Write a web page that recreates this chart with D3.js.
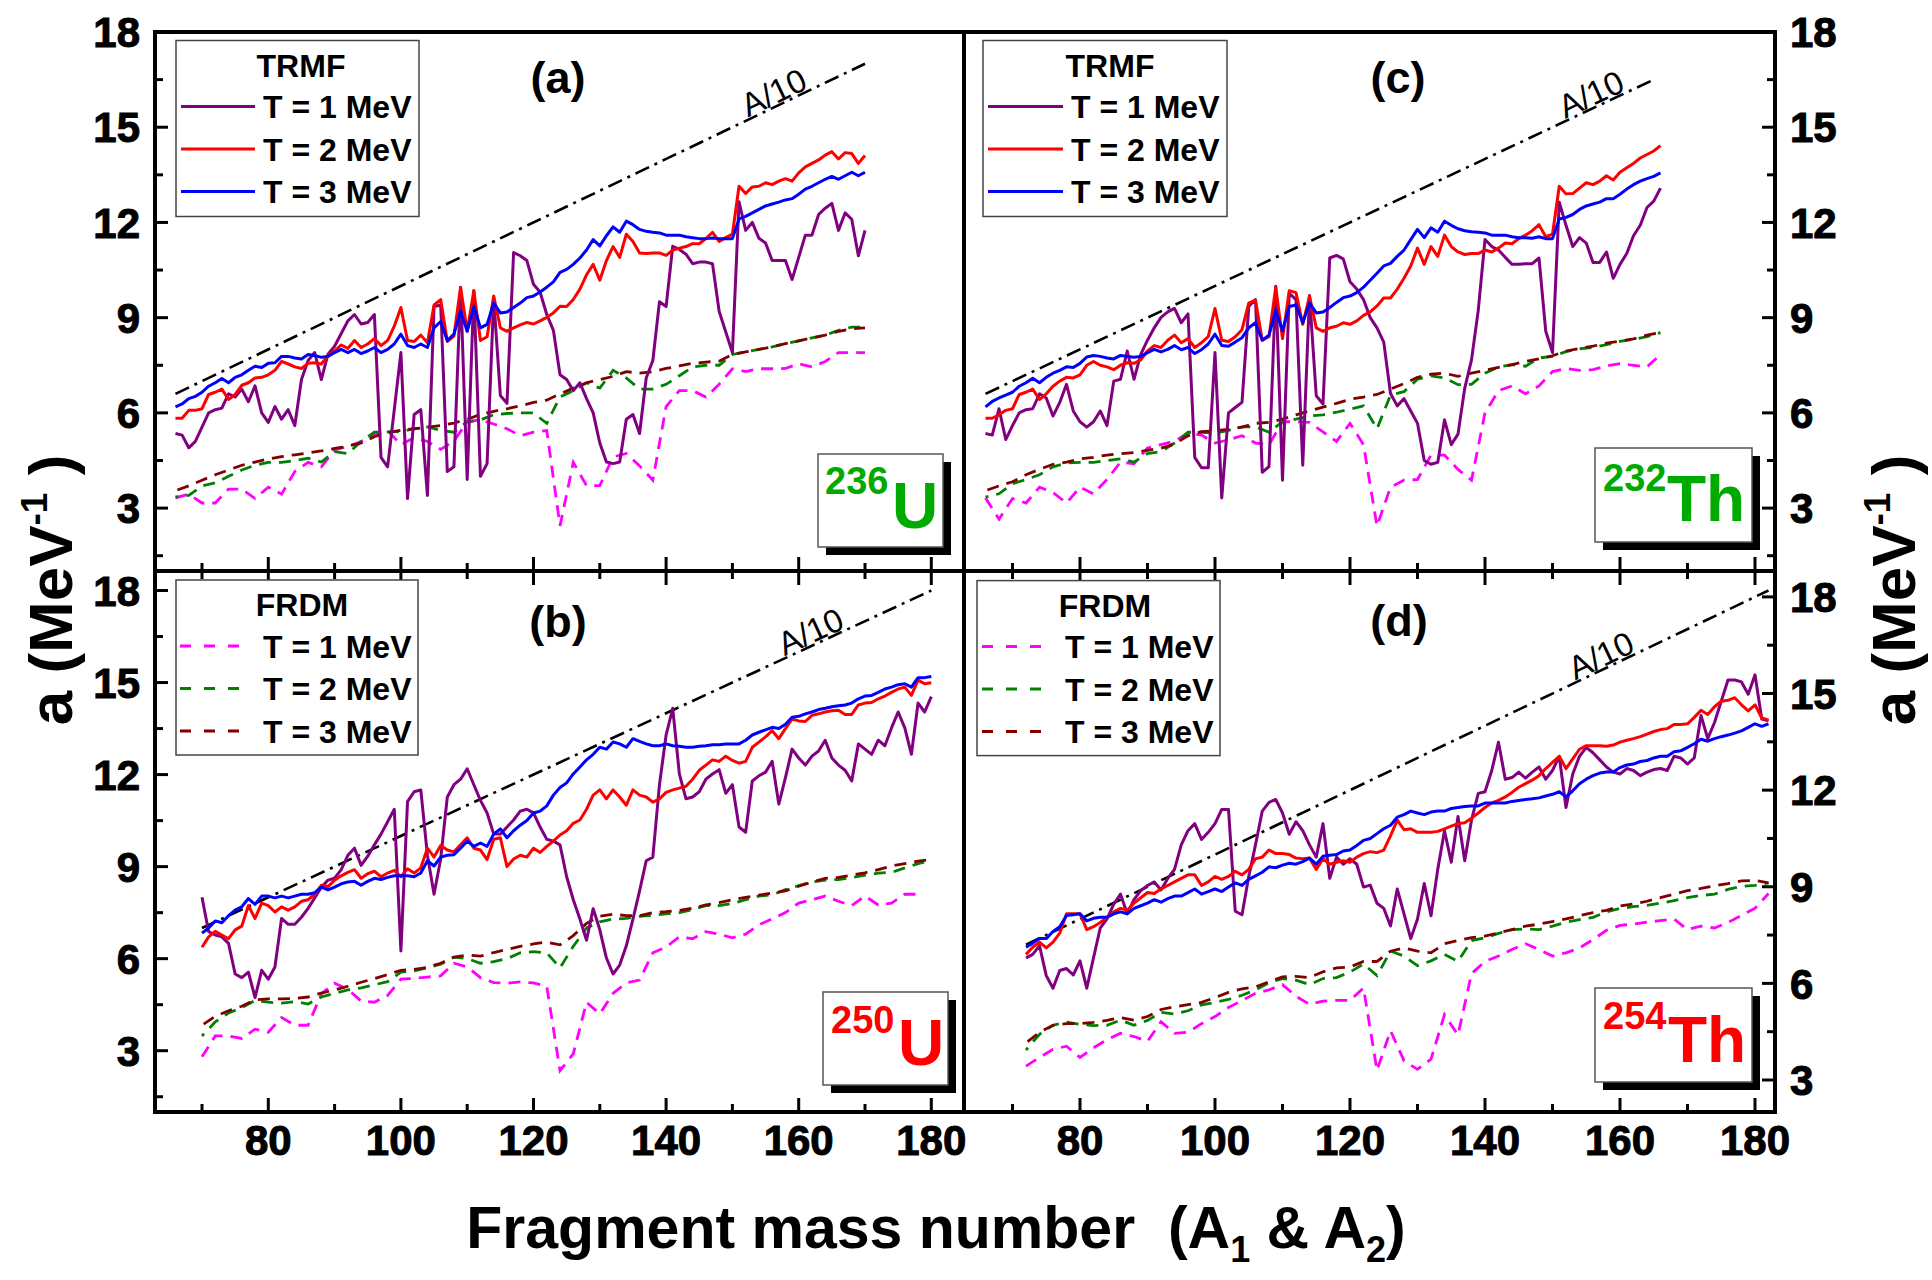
<!DOCTYPE html>
<html>
<head>
<meta charset="utf-8">
<script src="https://cdn.jsdelivr.net/npm/d3@7"></script>
<style>
  body { margin: 0; background: #fff; }
  svg { display: block; font-family: "Liberation Sans", Arial, Helvetica, sans-serif; }
</style>
</head>
<body>
<svg id="chart" width="1932" height="1280"></svg>
<script>
// ---------------- data (level density parameter a, MeV^-1) ----------------
// TRMF curves are given for every mass number, FRDM curves every 2nd mass number.

// 236U, A1 = 66 ... 170
const trmfT1_U236 = [5.35,5.3,4.9,5.1,5.55,6.0,6.1,6.15,6.6,6.5,
  6.75,6.35,6.85,6.0,5.7,6.2,5.8,6.1,5.6,7.05,
  7.65,7.9,7.05,7.85,8.1,8.5,8.9,9.1,8.8,8.85,
  9.1,4.6,4.3,6.1,7.9,3.3,5.95,6.1,3.4,9.35,
  9.4,4.15,4.3,9.95,3.9,9.85,4.0,4.4,9.6,6.55,
  6.3,11.05,10.95,10.8,10.05,9.8,9.1,8.6,7.2,7.05,
  6.7,6.95,6.45,6.0,5.05,4.45,4.4,4.45,5.8,5.95,
  5.35,7.1,7.65,9.5,9.35,11.25,11.15,11.0,10.7,10.75,
  10.75,10.7,9.2,8.55,7.9,12.65,11.75,12.0,11.5,11.35,
  10.8,10.8,10.8,10.2,10.9,11.6,11.6,12.25,12.45,12.6,
  11.75,12.3,12.1,10.95,11.75];
const trmfT2_U236 = [5.83,5.83,6.08,6.08,6.13,6.58,6.65,6.75,6.42,6.58,
  6.87,6.95,7.1,7.12,7.2,7.34,7.62,7.54,7.45,7.4,
  7.56,7.58,7.54,7.8,7.95,8.14,8.03,8.28,8.06,8.17,
  8.34,8.12,8.28,8.73,9.32,8.28,8.25,8.45,8.21,9.4,
  9.57,8.25,8.42,9.96,8.57,9.85,8.28,8.4,9.68,8.68,
  8.57,8.68,8.77,8.85,8.8,8.9,9.01,9.15,9.36,9.35,
  9.57,9.9,10.35,10.68,10.18,10.8,11.24,10.9,11.63,11.4,
  11.04,11.02,11.04,11.04,10.96,11.13,11.19,11.24,11.33,11.33,
  11.49,11.69,11.4,11.52,11.63,13.14,12.91,13.12,13.14,13.25,
  13.19,13.3,13.38,13.3,13.56,13.75,13.86,13.97,14.12,14.23,
  14.0,14.2,14.17,13.86,14.11];
const trmfT3_U236 = [6.19,6.28,6.45,6.52,6.65,6.84,6.95,7.08,6.95,7.12,
  7.2,7.34,7.47,7.43,7.56,7.58,7.78,7.78,7.73,7.7,
  7.84,7.81,7.75,7.78,7.9,8.0,7.9,8.0,7.87,7.95,
  8.06,7.9,8.0,8.17,8.48,8.12,8.06,8.17,8.06,8.68,
  8.88,8.28,8.48,9.21,8.57,9.35,8.68,8.79,9.46,9.15,
  9.18,9.32,9.46,9.63,9.68,9.81,9.96,10.13,10.43,10.52,
  10.68,10.88,11.13,11.46,11.26,11.58,11.86,11.69,12.04,11.93,
  11.78,11.72,11.69,11.67,11.6,11.6,11.6,11.55,11.52,11.49,
  11.49,11.51,11.49,11.49,11.49,12.11,12.19,12.3,12.41,12.52,
  12.58,12.64,12.71,12.75,12.89,13.05,13.14,13.25,13.36,13.45,
  13.36,13.47,13.58,13.47,13.58];
const frdmT1_U236 = [3.32,3.44,3.16,3.16,3.6,3.6,3.3,3.66,3.44,4.15,
  4.44,4.3,4.83,4.94,5.1,5.3,5.44,5.0,5.22,5.1,
  4.85,5.11,5.72,5.78,5.65,5.5,5.28,5.39,5.44,2.44,
  4.44,3.71,3.71,4.61,4.72,4.33,3.88,6.2,6.7,6.7,
  6.5,6.9,7.39,7.3,7.39,7.39,7.4,7.55,7.45,7.62,
  7.9,7.9,7.9];
const frdmT2_U236 = [3.35,3.4,3.7,3.8,4.0,4.2,4.35,4.44,4.44,4.5,
  4.57,4.45,4.78,4.72,5.1,5.39,5.4,5.41,5.5,5.56,
  5.45,5.39,5.72,5.78,5.94,5.98,6.0,6.0,5.67,6.5,
  6.7,6.95,6.78,7.34,7.1,6.75,6.75,6.9,7.17,7.45,
  7.5,7.5,7.84,7.92,8.0,8.08,8.18,8.27,8.36,8.45,
  8.6,8.7,8.7];
const frdmT3_U236 = [3.55,3.7,3.88,4.05,4.2,4.35,4.45,4.55,4.62,4.68,
  4.74,4.8,4.88,4.95,5.05,5.25,5.38,5.45,5.5,5.55,
  5.6,5.68,5.8,5.95,6.05,6.13,6.22,6.33,6.4,6.6,
  6.78,6.95,7.05,7.15,7.3,7.25,7.3,7.4,7.48,7.56,
  7.6,7.63,7.84,7.92,8.0,8.08,8.18,8.27,8.36,8.45,
  8.57,8.65,8.68];

// 250U, A1 = 70 ... 180
const trmfT1_U250 = [8.0,6.88,6.77,6.71,6.5,5.5,5.38,5.56,4.73,5.62,
  5.33,5.73,7.31,7.12,7.12,7.35,7.64,7.98,8.33,8.56,
  8.62,8.9,9.37,9.6,9.04,9.34,9.71,10.06,10.46,10.87,
  6.25,11.12,11.44,11.5,9.37,8.1,9.25,11.27,11.67,11.85,
  12.19,11.67,11.16,10.75,10.06,10.06,10.29,10.52,10.81,10.87,
  10.75,10.29,9.89,9.83,9.71,8.67,7.92,7.29,6.6,7.63,
  6.94,6.02,5.5,5.79,6.42,7.29,8.21,9.19,9.31,11.67,
  13.29,14.16,12.02,11.21,11.27,11.44,11.85,12.02,12.16,11.39,
  11.67,10.29,10.12,11.79,11.96,12.08,12.43,11.04,11.9,12.83,
  12.54,12.31,12.6,12.77,13.12,12.54,12.31,12.14,11.79,13.0,
  12.83,12.66,13.12,12.94,13.52,14.04,13.52,12.66,14.33,14.04,
  14.54];
const trmfT2_U250 = [6.37,6.71,6.89,6.77,6.65,6.94,7.06,7.73,7.31,7.81,
  7.73,7.52,7.69,7.58,7.69,7.87,7.92,8.1,8.39,8.35,
  8.56,8.7,8.81,8.9,8.62,8.77,8.85,8.67,8.79,8.88,
  8.67,8.93,8.79,8.96,9.6,9.31,9.69,9.54,9.48,9.71,
  9.94,9.6,9.54,9.23,9.89,9.94,9.0,9.25,9.37,9.31,
  9.6,9.46,9.66,9.83,10.03,10.17,10.41,10.52,10.87,11.33,
  11.5,11.21,11.5,11.27,11.0,11.5,11.33,11.27,11.1,11.21,
  11.42,11.5,11.56,11.62,11.85,12.14,12.31,12.48,12.43,12.6,
  12.46,12.37,12.43,12.89,13.06,13.23,13.43,13.17,13.5,13.81,
  13.75,13.73,13.93,13.98,14.04,14.08,14.1,13.96,13.96,14.27,
  14.33,14.35,14.47,14.56,14.68,14.79,14.85,14.58,15.08,14.96,
  14.99];
const trmfT3_U250 = [6.83,7.0,7.23,7.17,7.4,7.58,7.69,7.96,7.77,8.04,
  8.04,7.98,8.04,7.98,8.04,8.1,8.1,8.15,8.33,8.24,
  8.33,8.44,8.5,8.52,8.39,8.52,8.62,8.58,8.65,8.7,
  8.7,8.7,8.67,8.79,9.19,9.02,9.31,9.37,9.39,9.6,
  9.83,9.66,9.77,9.66,10.06,10.23,9.94,10.17,10.35,10.5,
  10.75,10.81,10.98,11.33,11.58,11.73,12.02,12.25,12.48,12.66,
  12.89,12.83,13.06,13.0,12.89,13.17,13.08,13.0,12.94,12.94,
  13.0,12.94,12.92,12.89,12.89,12.92,12.94,12.97,12.97,13.0,
  13.0,13.0,13.12,13.29,13.38,13.46,13.54,13.5,13.64,13.87,
  13.9,13.98,14.04,14.12,14.16,14.21,14.24,14.27,14.33,14.47,
  14.56,14.58,14.68,14.79,14.85,14.93,14.96,14.85,15.16,15.16,
  15.2];
const frdmT1_U250 = [2.8,3.48,3.48,3.4,3.7,3.6,4.08,3.83,3.83,4.85,
  5.2,5.0,4.62,4.58,4.8,5.33,5.36,5.4,5.44,5.85,
  5.73,5.38,5.22,5.2,5.24,5.21,5.1,2.35,2.9,4.58,
  4.2,4.87,5.21,5.3,6.19,6.38,6.71,6.65,6.88,6.8,
  6.68,6.8,7.1,7.3,7.5,7.81,7.92,8.04,7.87,7.73,
  8.04,7.75,7.81,8.1,8.1];
const frdmT2_U250 = [3.48,3.94,4.23,4.4,4.64,4.58,4.55,4.6,4.52,4.75,
  4.87,4.98,5.05,5.15,5.25,5.56,5.6,5.7,5.82,6.05,
  6.0,5.85,5.9,6.0,6.19,6.23,6.19,5.7,6.4,7.0,
  7.2,7.29,7.31,7.38,7.42,7.46,7.5,7.6,7.73,7.73,
  7.8,7.92,8.04,8.08,8.25,8.38,8.5,8.56,8.58,8.64,
  8.72,8.79,8.81,8.96,9.1,9.2];
const frdmT3_U250 = [3.83,4.12,4.3,4.45,4.66,4.69,4.69,4.7,4.75,4.88,
  4.98,5.1,5.23,5.35,5.48,5.62,5.65,5.72,5.85,6.05,
  6.12,6.08,6.2,6.3,6.4,6.48,6.54,6.45,6.75,7.15,
  7.38,7.45,7.4,7.4,7.5,7.53,7.57,7.65,7.75,7.83,
  7.92,8.0,8.07,8.14,8.21,8.36,8.5,8.62,8.65,8.72,
  8.8,8.9,9.02,9.1,9.18,9.23];

// 232Th, A1 = 66 ... 166
const trmfT1_Th232 = [5.35,5.3,6.13,5.16,5.6,6.0,6.1,6.13,6.6,6.47,
  5.9,6.33,6.9,6.06,5.72,5.55,5.72,6.06,5.6,7.0,
  7.06,7.95,7.06,7.84,8.29,8.68,9.01,9.18,9.29,8.84,
  9.12,4.6,4.27,4.27,7.9,3.32,6.0,6.17,6.33,9.35,
  9.57,4.13,4.31,9.99,3.88,9.77,9.57,4.35,9.7,6.54,
  6.28,10.88,10.96,10.85,10.13,9.9,9.57,9.0,8.68,8.23,
  6.61,6.22,6.45,6.06,5.67,4.5,4.38,4.44,5.78,5.0,
  5.33,6.78,7.67,9.23,11.46,11.24,11.13,10.9,10.68,10.68,
  10.7,10.7,10.88,8.57,7.9,12.64,11.91,11.24,11.52,11.35,
  10.74,10.74,11.07,10.24,10.68,11.02,11.58,11.91,12.47,12.67,
  13.08];
const trmfT2_Th232 = [5.83,5.83,5.94,6.08,6.13,6.58,6.65,6.75,6.42,6.6,
  6.84,7.0,7.12,7.1,7.2,7.5,7.62,7.5,7.45,7.36,
  7.5,7.58,7.56,7.67,7.95,8.12,8.06,8.29,8.45,8.21,
  8.34,8.06,8.21,8.4,9.29,8.29,8.25,8.4,8.62,9.46,
  9.55,8.29,8.4,9.96,8.34,9.85,9.79,8.79,9.68,8.68,
  8.57,8.68,8.73,8.84,8.79,8.9,9.07,9.18,9.37,9.62,
  9.62,9.9,10.24,10.63,11.19,10.68,11.24,10.93,11.6,11.24,
  11.07,10.99,11.02,11.02,11.13,11.07,11.19,11.35,11.33,11.49,
  11.6,11.74,11.93,11.55,11.63,13.14,12.9,12.91,13.08,13.25,
  13.19,13.3,13.47,13.34,13.58,13.72,13.86,14.03,14.14,14.25,
  14.42];
const trmfT3_Th232 = [6.19,6.36,6.47,6.56,6.65,6.84,6.95,7.09,6.95,7.12,
  7.25,7.34,7.45,7.43,7.56,7.76,7.81,7.78,7.73,7.7,
  7.81,7.78,7.75,7.78,7.9,8.0,7.92,8.0,8.12,7.99,
  8.06,7.87,7.99,8.17,8.48,8.12,8.1,8.23,8.37,8.68,
  8.84,8.29,8.45,9.23,8.59,9.35,9.4,8.84,9.46,9.15,
  9.18,9.32,9.48,9.63,9.68,9.79,9.96,10.18,10.4,10.63,
  10.71,10.93,11.13,11.46,11.78,11.52,11.83,11.69,12.04,11.91,
  11.8,11.74,11.71,11.69,11.67,11.6,11.6,11.6,11.55,11.52,
  11.52,11.5,11.55,11.49,11.49,12.11,12.16,12.25,12.41,12.52,
  12.58,12.64,12.75,12.75,12.89,13.05,13.19,13.3,13.38,13.45,
  13.56];
const frdmT1_Th232 = [3.32,2.65,3.3,3.16,3.66,3.49,3.16,3.66,3.45,3.9,
  4.45,4.4,4.89,5.0,5.11,5.35,5.3,5.05,5.15,5.28,
  5.05,5.0,5.72,5.72,5.7,5.4,5.1,5.67,5.0,2.43,
  3.66,3.88,3.9,4.67,4.67,4.22,3.88,6.0,6.7,6.85,
  6.6,6.85,7.3,7.4,7.34,7.36,7.48,7.55,7.5,7.45,
  7.84];
const frdmT2_Th232 = [3.35,3.45,3.77,3.9,4.05,4.3,4.42,4.44,4.44,4.5,
  4.55,4.45,4.72,4.78,5.05,5.39,5.39,5.36,5.45,5.56,
  5.56,5.39,5.72,5.8,5.9,5.94,6.02,6.12,6.22,5.5,
  6.56,6.67,7.06,7.17,7.1,6.89,6.9,7.25,7.45,7.52,
  7.47,7.73,7.78,7.93,8.02,8.06,8.15,8.25,8.32,8.4,
  8.53];
const frdmT3_Th232 = [3.55,3.7,3.83,4.05,4.22,4.38,4.45,4.55,4.6,4.67,
  4.71,4.75,4.82,4.89,5.02,5.28,5.41,5.44,5.48,5.55,
  5.67,5.7,5.8,5.94,6.06,6.18,6.3,6.43,6.5,6.58,
  6.75,6.92,7.12,7.22,7.25,7.15,7.25,7.34,7.43,7.52,
  7.62,7.7,7.8,7.95,8.03,8.1,8.2,8.26,8.33,8.45,
  8.53];

// 254Th, A1 = 72 ... 182
const trmfT1_Th254 = [6.79,6.9,7.17,6.24,5.85,6.4,6.46,6.26,6.7,5.85,
  6.79,7.72,8.0,8.46,8.77,8.16,8.6,8.88,9.04,9.15,
  8.9,9.26,9.54,10.3,10.74,10.96,10.47,10.69,10.96,11.4,
  11.4,8.24,8.13,9.32,10.3,11.35,11.62,11.71,11.29,10.63,
  11.02,10.74,10.3,9.92,10.96,9.26,9.92,9.7,9.87,9.7,
  8.99,9.05,8.49,8.33,7.78,8.93,8.16,7.39,8.0,9.1,
  8.1,9.54,10.74,9.76,11.18,9.81,11.07,11.9,11.95,12.61,
  13.49,12.34,12.39,12.56,12.37,12.56,12.72,12.34,12.61,13.05,
  11.46,12.5,13.05,13.33,13.16,12.94,12.72,12.56,12.5,12.67,
  12.61,12.45,12.56,12.64,12.67,12.61,13.05,13.0,12.81,13.0,
  14.32,13.6,14.1,14.76,15.42,15.42,15.36,14.98,15.58,14.21,
  14.15];
const trmfT2_Th254 = [6.9,7.12,7.28,7.1,7.28,7.56,8.16,8.16,8.16,7.67,
  7.76,7.89,8.05,8.22,8.33,8.27,8.49,8.66,8.82,8.79,
  8.93,9.04,9.15,9.26,9.37,9.37,9.04,9.15,9.32,9.23,
  9.32,9.48,9.37,9.54,9.87,9.92,10.14,10.03,10.03,10.0,
  9.89,9.87,9.89,9.54,9.87,9.7,9.76,9.81,9.76,9.92,
  10.03,10.09,10.06,10.14,10.58,11.07,10.77,10.8,10.69,10.69,
  10.69,10.72,10.8,10.88,10.96,10.99,11.13,11.29,11.46,11.6,
  11.68,11.79,11.93,12.09,12.2,12.31,12.45,12.67,12.86,13.05,
  12.67,12.97,13.27,13.38,13.38,13.38,13.36,13.4,13.49,13.55,
  13.6,13.66,13.74,13.82,13.88,13.91,14.04,14.04,14.06,14.26,
  14.48,14.35,14.59,14.76,14.79,14.87,14.65,14.46,14.65,14.24,
  14.17];
const trmfT3_Th254 = [7.12,7.25,7.39,7.39,7.61,7.76,8.11,8.13,8.16,7.94,
  8.02,8.05,8.05,8.16,8.22,8.16,8.33,8.41,8.49,8.6,
  8.52,8.63,8.71,8.71,8.82,8.93,8.77,8.85,8.93,8.85,
  8.99,9.12,9.04,9.23,9.34,9.45,9.62,9.59,9.67,9.73,
  9.7,9.78,9.89,9.7,9.95,9.98,10.0,10.11,10.14,10.28,
  10.44,10.5,10.65,10.8,10.91,11.16,11.24,11.35,11.29,11.24,
  11.32,11.35,11.35,11.43,11.46,11.49,11.51,11.51,11.6,11.6,
  11.6,11.6,11.65,11.68,11.71,11.73,11.76,11.82,11.87,11.95,
  11.79,11.98,12.2,12.34,12.45,12.53,12.56,12.56,12.7,12.78,
  12.81,12.89,12.92,13.0,13.05,13.05,13.19,13.22,13.33,13.44,
  13.58,13.52,13.6,13.66,13.71,13.77,13.84,13.95,14.06,13.98,
  14.06];
const frdmT1_Th254 = [3.43,3.7,3.95,4.05,3.7,4.0,4.25,4.45,4.35,4.2,
  4.81,4.45,4.48,4.75,4.97,5.25,5.47,5.69,5.8,5.96,
  5.6,5.35,5.45,5.47,5.47,5.86,3.3,4.53,3.6,3.33,
  3.65,5.03,4.4,6.3,6.68,6.85,7.05,7.23,7.05,6.85,
  6.95,7.1,7.36,7.65,7.8,7.84,7.9,7.95,8.0,7.67,
  7.78,7.72,7.89,8.11,8.33,8.79];
const frdmT2_Th254 = [3.93,4.42,4.7,4.8,4.73,4.69,4.7,4.86,4.7,4.85,
  5.1,5.05,5.15,5.33,5.41,5.5,5.63,5.8,6.02,6.15,
  6.1,5.96,6.15,6.18,6.35,6.6,6.24,7.0,6.85,6.55,
  6.7,6.9,6.68,7.33,7.42,7.55,7.67,7.69,7.67,7.78,
  7.9,7.98,8.05,8.22,8.33,8.38,8.42,8.49,8.57,8.66,
  8.73,8.77,8.92,9.01,9.04,9.12];
const frdmT3_Th254 = [4.15,4.48,4.7,4.75,4.75,4.79,4.85,4.94,4.86,4.97,
  5.19,5.27,5.34,5.41,5.56,5.72,5.83,5.89,6.05,6.2,
  6.22,6.18,6.36,6.48,6.51,6.68,6.68,7.0,7.1,7.0,
  6.95,7.23,7.33,7.42,7.47,7.57,7.67,7.78,7.84,7.92,
  8.0,8.1,8.2,8.27,8.4,8.47,8.55,8.66,8.77,8.88,
  8.95,9.03,9.1,9.18,9.2,9.12];

// first fragment mass of each series, and the span of the A/10 guide line
const firstMass = { U236: 66, U250: 70, Th232: 66, Th254: 72 };
const a10Range = { U236: [66, 170], U250: [70, 180], Th232: [66, 165], Th254: [72, 182] };

const tempLabels = ['T = 1 MeV', 'T = 2 MeV', 'T = 3 MeV'];
const xTickLabels = [80, 100, 120, 140, 160, 180];
const yTickLabels = [3, 6, 9, 12, 15, 18];

// ---------------- layout ----------------
const trmfColors = ['#800080', '#ff0000', '#0000ff'];
const frdmColors = ['#ff00ff', '#008000', '#800000'];

const svg = d3.select('#chart');
const colX = [[155, 964], [964, 1775]];
const rowY = [[32, 571], [571, 1112]];

const xLeft = d3.scaleLinear().domain([80, 180]).range([268.3, 931.3]);
const xRight = d3.scaleLinear().domain([80, 180]).range([1080, 1755]);
const yTop = d3.scaleLinear().domain([3, 18]).range([508.1, 32]);
const yBotL = d3.scaleLinear().domain([3, 18]).range([1050.7, 590.5]);
const yBotR = d3.scaleLinear().domain([3, 18]).range([1080, 596.9]);

const panels = [
  { tag: '(a)', col: 0, row: 0, key: 'U236', y: yTop, legend: 'TRMF', tagX: 558, tagY: 93, a10Text: 152.5,
    trmf: [trmfT1_U236, trmfT2_U236, trmfT3_U236], frdm: [frdmT1_U236, frdmT2_U236, frdmT3_U236],
    nuc: { mass: '236', sym: 'U', color: '#00aa00', x: 818, y: 454, w: 125, h: 93, mx: 7, my: 40, sx: 74, sy: 74 },
    leg: { x: 176, y: 40.5, w: 243, h: 176, lx0: 181, lx1: 255, tx: 263, titleX: 301 } },
  { tag: '(b)', col: 0, row: 1, key: 'U250', y: yBotL, legend: 'FRDM', tagX: 558, tagY: 637, a10Text: 158,
    trmf: [trmfT1_U250, trmfT2_U250, trmfT3_U250], frdm: [frdmT1_U250, frdmT2_U250, frdmT3_U250],
    nuc: { mass: '250', sym: 'U', color: '#ff0000', x: 823, y: 992, w: 125, h: 93, mx: 8, my: 41, sx: 75, sy: 73 },
    leg: { x: 176, y: 580, w: 242, h: 175, lx0: 180, lx1: 243, tx: 263, titleX: 302 } },
  { tag: '(c)', col: 1, row: 0, key: 'Th232', y: yTop, legend: 'TRMF', tagX: 1398, tagY: 93, a10Text: 152,
    trmf: [trmfT1_Th232, trmfT2_Th232, trmfT3_Th232], frdm: [frdmT1_Th232, frdmT2_Th232, frdmT3_Th232],
    nuc: { mass: '232', sym: 'Th', color: '#00aa00', x: 1595, y: 448, w: 157, h: 94, mx: 8, my: 43, sx: 72, sy: 73 },
    leg: { x: 983, y: 40.5, w: 244, h: 176, lx0: 988, lx1: 1063, tx: 1071, titleX: 1110 } },
  { tag: '(d)', col: 1, row: 1, key: 'Th254', y: yBotR, legend: 'FRDM', tagX: 1399, tagY: 636, a10Text: 153.5,
    trmf: [trmfT1_Th254, trmfT2_Th254, trmfT3_Th254], frdm: [frdmT1_Th254, frdmT2_Th254, frdmT3_Th254],
    nuc: { mass: '254', sym: 'Th', color: '#ff0000', x: 1595, y: 988, w: 157, h: 94, mx: 8, my: 41, sx: 73, sy: 74 },
    leg: { x: 977, y: 580.6, w: 243, h: 175, lx0: 982, lx1: 1045, tx: 1065, titleX: 1105 } }
];

panels.forEach(p => {
  const xs = p.col === 0 ? xLeft : xRight;
  const ys = p.y;
  const [fx0, fx1] = colX[p.col];
  const [fy0, fy1] = rowY[p.row];
  const g = svg.append('g');
  const line = d3.line().x(d => xs(d[0])).y(d => ys(d[1]));
  const a0 = firstMass[p.key];

  // A/10 guide line
  const ar = a10Range[p.key];
  g.append('path')
    .attr('d', line(ar.map(a => [a, a / 10])))
    .attr('fill', 'none').attr('stroke', '#000').attr('stroke-width', 2.6)
    .attr('stroke-dasharray', '15,6,3,6');
  const px = xs(p.a10Text), py = ys(p.a10Text / 10);
  const ang = Math.atan2(ys(ar[1] / 10) - ys(ar[0] / 10), xs(ar[1]) - xs(ar[0])) * 180 / Math.PI;
  g.append('text')
    .attr('transform', `translate(${px},${py}) rotate(${ang})`)
    .attr('y', -2)
    .attr('font-size', 33)
    .text('A/10');

  // FRDM (dashed)
  p.frdm.forEach((vals, k) => {
    g.append('path')
      .attr('d', line(vals.map((v, i) => [a0 + 2 * i, v])))
      .attr('fill', 'none').attr('stroke', frdmColors[k]).attr('stroke-width', 2.8)
      .attr('stroke-dasharray', '12,8').attr('stroke-dashoffset', k * 9);
  });

  // TRMF (solid)
  p.trmf.forEach((vals, k) => {
    g.append('path')
      .attr('d', line(vals.map((v, i) => [a0 + i, v])))
      .attr('fill', 'none').attr('stroke', trmfColors[k]).attr('stroke-width', 3)
      .attr('stroke-linejoin', 'round');
  });

  // x ticks (bottom, and top for lower panels)
  d3.range(70, 190, 10).filter(v => xs(v) > fx0 + 3 && xs(v) < fx1 - 3).forEach(v => {
    const len = v % 20 === 0 ? 14 : 8;
    g.append('line').attr('x1', xs(v)).attr('x2', xs(v)).attr('y1', fy1).attr('y2', fy1 - len)
      .attr('stroke', '#000').attr('stroke-width', 3);
    if (p.row === 1) {
      g.append('line').attr('x1', xs(v)).attr('x2', xs(v)).attr('y1', fy0).attr('y2', fy0 + len)
        .attr('stroke', '#000').attr('stroke-width', 3);
    }
  });

  // y ticks on the outer side
  const edge = p.col === 0 ? fx0 : fx1;
  const dir = p.col === 0 ? 1 : -1;
  d3.range(1.5, 19.5, 1.5).filter(v => ys(v) > fy0 + 3 && ys(v) < fy1 - 3).forEach(v => {
    const len = v % 3 === 0 ? 13 : 8;
    g.append('line').attr('x1', edge).attr('x2', edge + dir * len).attr('y1', ys(v)).attr('y2', ys(v))
      .attr('stroke', '#000').attr('stroke-width', 3);
  });
  yTickLabels.forEach(v => {
    g.append('text')
      .attr('x', p.col === 0 ? 140 : 1790)
      .attr('y', ys(v)).attr('dy', '0.36em')
      .attr('text-anchor', p.col === 0 ? 'end' : 'start')
      .attr('font-size', 42).attr('font-weight', 'bold')
      .attr('stroke', '#000').attr('stroke-width', 1)
      .text(v);
  });
  if (p.row === 1) {
    xTickLabels.forEach(v => {
      g.append('text')
        .attr('x', xs(v)).attr('y', 1155)
        .attr('text-anchor', 'middle')
        .attr('font-size', 42).attr('font-weight', 'bold')
        .attr('stroke', '#000').attr('stroke-width', 1)
        .text(v);
    });
  }

  // panel tag
  g.append('text').attr('x', p.tagX).attr('y', p.tagY).attr('text-anchor', 'middle')
    .attr('font-size', 45).attr('font-weight', 'bold').text(p.tag);

  // legend
  const L = p.leg;
  g.append('rect').attr('x', L.x).attr('y', L.y).attr('width', L.w).attr('height', L.h)
    .attr('fill', '#fff').attr('stroke', '#444').attr('stroke-width', 1.5);
  g.append('text').attr('x', L.titleX).attr('y', L.y + 36).attr('text-anchor', 'middle')
    .attr('font-size', 32).attr('font-weight', 'bold').text(p.legend);
  tempLabels.forEach((t, k) => {
    const ly = L.y + 66 + k * 42.5;
    const sample = g.append('line').attr('x1', L.lx0).attr('x2', L.lx1).attr('y1', ly).attr('y2', ly)
      .attr('stroke-width', 3);
    if (p.legend === 'TRMF') sample.attr('stroke', trmfColors[k]);
    else sample.attr('stroke', frdmColors[k]).attr('stroke-dasharray', '11,13');
    g.append('text').attr('x', L.tx).attr('y', ly + 11.5)
      .attr('font-size', 32).attr('font-weight', 'bold').text(t);
  });

  // nucleus label with drop shadow
  const N = p.nuc;
  g.append('rect').attr('x', N.x + 8).attr('y', N.y + 8).attr('width', N.w).attr('height', N.h).attr('fill', '#000');
  g.append('rect').attr('x', N.x).attr('y', N.y).attr('width', N.w).attr('height', N.h)
    .attr('fill', '#fff').attr('stroke', '#555').attr('stroke-width', 1.5);
  g.append('text').attr('x', N.x + N.mx).attr('y', N.y + N.my)
    .attr('font-size', 38).attr('font-weight', 'bold').attr('fill', N.color).text(N.mass);
  g.append('text').attr('x', N.x + N.sx).attr('y', N.y + N.sy)
    .attr('font-size', 64).attr('font-weight', 'bold').attr('fill', N.color).text(N.sym);
});

// frame
svg.append('rect').attr('x', 155).attr('y', 32).attr('width', 1620).attr('height', 1080)
  .attr('fill', 'none').attr('stroke', '#000').attr('stroke-width', 4);
svg.append('line').attr('x1', 964).attr('x2', 964).attr('y1', 32).attr('y2', 1112)
  .attr('stroke', '#000').attr('stroke-width', 4);
svg.append('line').attr('x1', 155).attr('x2', 1775).attr('y1', 571).attr('y2', 571)
  .attr('stroke', '#000').attr('stroke-width', 4);

// axis titles
const yTitle = (x, y) => {
  const t = svg.append('text')
    .attr('transform', `translate(${x},${y}) rotate(-90)`)
    .attr('text-anchor', 'middle')
    .attr('font-size', 62).attr('font-weight', 'bold');
  t.append('tspan').text('a (MeV');
  t.append('tspan').attr('font-size', 37).attr('dy', -25).text('-1');
  t.append('tspan').attr('dy', 25).text(' )');
};
yTitle(72, 590);
yTitle(1915, 590);

const xt = svg.append('text').attr('x', 936).attr('y', 1248).attr('text-anchor', 'middle')
  .attr('font-size', 59).attr('font-weight', 'bold').attr('xml:space', 'preserve');
xt.append('tspan').text('Fragment mass number  (A');
xt.append('tspan').attr('font-size', 36).attr('dy', 14).text('1');
xt.append('tspan').attr('dy', -14).text(' & A');
xt.append('tspan').attr('font-size', 36).attr('dy', 14).text('2');
xt.append('tspan').attr('dy', -14).text(')');
</script>
</body>
</html>
